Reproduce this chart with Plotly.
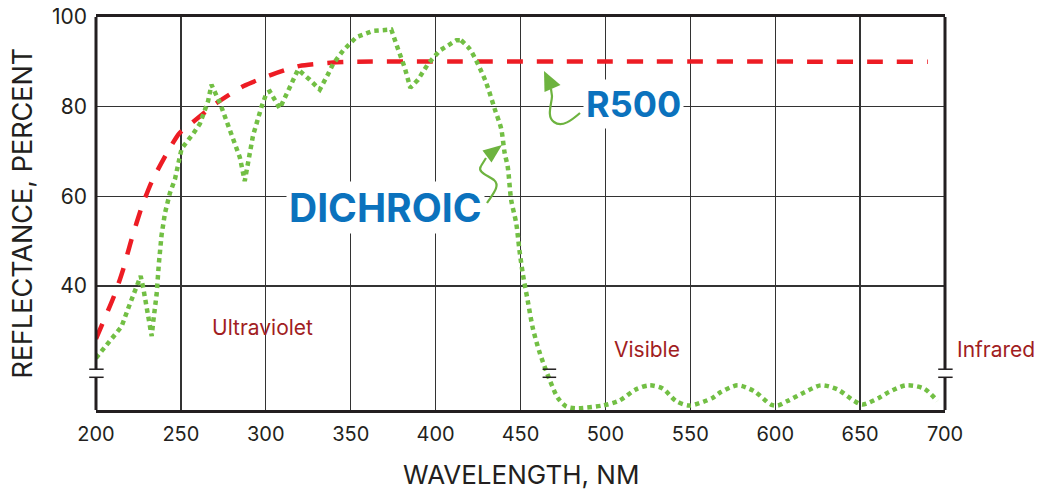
import plotly.graph_objects as go

# ---------------- data ----------------
x_ticks = [200, 250, 300, 350, 400, 450, 500, 550, 600, 650, 700]
y_ticks = [40, 60, 80, 100]

r500_nm = [200, 211, 216, 221, 227, 233, 242, 249, 256, 271, 287, 304, 320, 338, 350, 690]
r500_pct = [28.2, 38.1, 43.7, 50.5, 57.7, 63.4, 69.8, 74.0, 76.2, 80.8, 84.6, 87.2, 89.1, 89.8, 90.0, 90.0]

dichroic_nm = [200, 208, 215, 219, 223, 226.3, 227.8, 229.8, 232.8, 233.7, 235.7, 237, 238.6, 240.6,
               243.5, 246.5, 250.4, 257.3, 261.2, 266, 268, 273, 278.8, 284.7, 287.6, 292.5, 297.5,
               300.4, 302.4, 308.2, 314, 319, 325.9, 331.8, 336.6, 339.6, 345.5, 353.3, 363, 373.9,
               377.8, 381.8, 385.1, 389.6, 395.5, 402.4, 412.2, 415,
               420, 424.9, 429.8, 434.7, 438.6, 440.6, 442.5, 444.5, 447.5, 449.4, 451.4, 454.3,
               457.3, 461.2, 467, 472, 476.9, 482.8, 498.4, 508.2, 518, 525.9, 533.7, 541.6, 549.4,
               563.1, 568, 577.8, 587.6, 597.5, 601.4, 607.2, 617, 626.9, 636.7, 646.5, 651.4, 661,
               667, 676.9, 687.6, 695.5]
dichroic_pct = [23.9, 27.5, 30.9, 35.0, 38.8, 42.2, 39.6, 35.0, 28.8, 32.0, 38.1, 44.9, 51.3, 56.2,
                60.7, 63.8, 70.6, 74.0, 76.2, 81.2, 84.9, 80.8, 75.1, 68.7, 63.4, 73.6, 80.0,
                83.0, 83.4, 79.6, 84.2, 88.3, 86.0, 83.8, 87.2, 89.5, 92.5, 95.5, 96.9, 97.2,
                92.9, 88.7, 84.2, 86.0, 89.5, 92.5, 94.8, 94.8,
                92.9, 89.5, 85.3, 79.6, 75.1, 69.8, 66.5, 59.2, 53.9, 47.9, 42.6, 36.6,
                30.5, 25.2, 19.2, 15.0, 13.1, 12.7, 13.3, 14.4, 16.9, 17.8, 17.1, 14.3, 13.3,
                15.0, 16.3, 17.8, 16.5, 13.5, 13.3, 14.3, 16.2, 17.8, 16.9, 14.3, 13.5, 15.0,
                16.3, 17.8, 17.1, 14.3]

# ---------------- layout constants ----------------
W, H = 1043, 493
L, R, T, B = 96, 98, 17, 83
X_MIN, X_MAX = 200, 700
Y_MIN, Y_MAX = 12.3, 100
BREAK_LO, BREAK_HI = 19.6, 21.4

GREEN = "#72bf44"
RED = "#ed1c24"
BLUE = "#0b72bd"
DARKRED = "#a11d22"
INK = "#231f20"
FONT = "Inter"

pw = W - L - R
ph = H - T - B


def to_data(px, py):
    """pixel -> data coords (for decorative paths only)"""
    x = X_MIN + (px - L) / pw * (X_MAX - X_MIN)
    y = Y_MAX - (py - T) / ph * (Y_MAX - Y_MIN)
    return x, y


def path_from_px(cmds):
    out = []
    for c in cmds:
        if isinstance(c, str):
            out.append(c)
        else:
            x, y = to_data(*c)
            out.append(f"{x:.3f},{y:.3f}")
    return " ".join(out)


split = dichroic_nm.index(415)

fig = go.Figure()
fig.add_trace(go.Scatter(x=r500_nm, y=r500_pct, mode="lines",
                         line=dict(color=RED, width=4.5, dash="16px,14px", shape="spline", smoothing=0.6),
                         showlegend=False, hoverinfo="skip"))
fig.add_trace(go.Scatter(x=dichroic_nm[:split + 1], y=dichroic_pct[:split + 1], mode="lines",
                         line=dict(color=GREEN, width=4.5, dash="4.5px,4px"),
                         showlegend=False, hoverinfo="skip"))
fig.add_trace(go.Scatter(x=dichroic_nm[split:], y=dichroic_pct[split:], mode="lines",
                         line=dict(color=GREEN, width=4.5, dash="4.5px,4px", shape="spline", smoothing=0.8),
                         showlegend=False, hoverinfo="skip"))

shapes = []
# gap in vertical gridlines at the axis break
shapes.append(dict(type="rect", xref="paper", yref="y", x0=0, x1=1, y0=BREAK_LO, y1=BREAK_HI,
                   fillcolor="white", line=dict(width=0), layer="between"))
# left / right frame with break
for xp in (0, 1):
    shapes.append(dict(type="line", xref="paper", yref="y", x0=xp, x1=xp, y0=Y_MIN, y1=BREAK_LO,
                       line=dict(color=INK, width=3), layer="above"))
    shapes.append(dict(type="line", xref="paper", yref="y", x0=xp, x1=xp, y0=BREAK_HI, y1=Y_MAX,
                       line=dict(color=INK, width=3), layer="above"))
    for yb in (BREAK_LO, BREAK_HI):
        shapes.append(dict(type="line", xref="paper", yref="y", x0=xp - 0.008, x1=xp + 0.009,
                           y0=yb, y1=yb, line=dict(color=INK, width=1.5), layer="above"))
# break mark on the curve
for yb in (BREAK_LO, BREAK_HI):
    shapes.append(dict(type="line", xref="x", yref="y", x0=463, x1=471, y0=yb, y1=yb,
                       line=dict(color=INK, width=1.5), layer="above"))

# wavy arrows
arrow_line = dict(color="#6db33f", width=2.2)
shapes.append(dict(type="path", xref="x", yref="y", layer="above", line=arrow_line,
                   path=path_from_px(["M", (487, 203), "C", (492, 195), (501, 186), (494, 180),
                                      "C", (487, 175), (477, 172), (481, 166), "L", (486, 158)])))
shapes.append(dict(type="path", xref="x", yref="y", layer="above", line=dict(width=0),
                   fillcolor="#6db33f",
                   path=path_from_px(["M", (502, 145), "L", (482.5, 150.5), "L", (491.5, 162.5), "Z"])))
shapes.append(dict(type="path", xref="x", yref="y", layer="above", line=arrow_line,
                   path=path_from_px(["M", (580, 113), "C", (572, 120), (562, 128), (554, 122),
                                      "C", (546, 117), (552, 103), (552, 96), "L", (551, 89)])))
shapes.append(dict(type="path", xref="x", yref="y", layer="above", line=dict(width=0),
                   fillcolor="#6db33f",
                   path=path_from_px(["M", (544, 71), "L", (544.5, 92), "L", (560.5, 85), "Z"])))

annotations = [
    dict(text="<b>DICHROIC</b>", x=370.3, y=57.6, xref="x", yref="y", showarrow=False,
         font=dict(family=FONT, size=39, color=BLUE), bgcolor="white", borderpad=2),
    dict(text="<b>R500</b>", x=516.5, y=80.6, xref="x", yref="y", showarrow=False,
         font=dict(family=FONT, size=36, color=BLUE), bgcolor="white", borderpad=2),
    dict(text="Ultraviolet", x=298.2, y=30.8, xref="x", yref="y", showarrow=False,
         font=dict(family=FONT, size=21, color=DARKRED)),
    dict(text="Visible", x=524.4, y=25.7, xref="x", yref="y", showarrow=False,
         font=dict(family=FONT, size=21, color=DARKRED)),
    dict(text="Infrared", x=(996 - L) / pw, y=25.9, xref="paper", yref="y", xanchor="center",
         showarrow=False, font=dict(family=FONT, size=21, color=DARKRED)),
    dict(text="WAVELENGTH, NM", x=0.5, y=-0.165, xref="paper", yref="paper", xanchor="center",
         yanchor="middle", showarrow=False, font=dict(family=FONT, size=26, color=INK)),
    dict(text="REFLECTANCE, PERCENT", x=(22 - L) / pw, y=0.5, xref="paper", yref="paper",
         xanchor="center", yanchor="middle", textangle=-90, showarrow=False,
         font=dict(family=FONT, size=27, color=INK)),
]

fig.update_layout(
    width=W, height=H,
    margin=dict(l=L, r=R, t=T, b=B, pad=0, autoexpand=False),
    paper_bgcolor="white", plot_bgcolor="white",
    shapes=shapes, annotations=annotations,
    font=dict(family=FONT, color=INK),
    hovermode=False,
    xaxis=dict(range=[X_MIN, X_MAX], tickvals=x_ticks, ticks="", showgrid=True, automargin=False,
               gridcolor="#333333", gridwidth=1.4, zeroline=False,
               showline=True, linecolor=INK, linewidth=3, mirror=True,
               tickfont=dict(family=FONT, size=20, color=INK), ticklabelstandoff=4),
    yaxis=dict(range=[Y_MIN, Y_MAX], tickvals=y_ticks, ticks="", showgrid=True, automargin=False,
               gridcolor="#333333", gridwidth=1.4, zeroline=False, showline=False,
               tickfont=dict(family=FONT, size=21, color=INK), ticklabelstandoff=8),
)

fig.write_html("out.html", config={"displayModeBar": False, "staticPlot": True},
               post_script="document.body.style.margin='0';document.body.style.overflow='hidden';")
